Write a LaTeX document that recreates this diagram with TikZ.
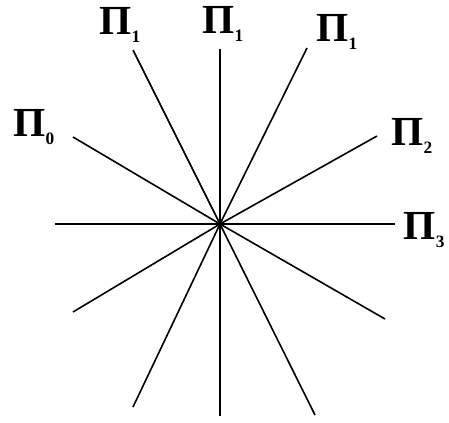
\documentclass[tikz,border=0pt]{standalone}
\usepackage{fontspec}
\setmainfont{Liberation Serif}
\tikzset{
  ray/.style={line width=1.2pt},
  pilabel/.style={inner sep=0pt, font=\fontsize{31}{36}\selectfont\bfseries}
}
\newcommand{\Pisub}[1]{Π\raisebox{-6pt}{\fontsize{13}{15}\selectfont #1}}
\begin{document}
\begin{tikzpicture}[x=0.75pt,y=0.75pt,yscale=-1,xscale=1]
\useasboundingbox (0,0) rectangle (449,422);
\coordinate (o) at (220,224);
% ray ends, upper half
\coordinate (p0) at (73,137);
\coordinate (p1l) at (133,50);
\coordinate (p1m) at (220,49);
\coordinate (p1r) at (307,48);
\coordinate (p2) at (377,136);
\coordinate (p3) at (395,224);
% ray ends, lower half
\coordinate (w) at (55,224);
\coordinate (sw) at (73,312);
\coordinate (ssw) at (133,407);
\coordinate (s) at (220,416);
\coordinate (sse) at (315,415);
\coordinate (se) at (385,319);
\foreach \e in {p0,p1l,p1m,p1r,p2,p3,w,sw,ssw,s,sse,se}
  \draw [ray] (o) -- (\e);
% labels
\draw (120,25) node [pilabel] (l1l) {\Pisub{1}};
\draw (223,24) node [pilabel] (l1m) {\Pisub{1}};
\draw (337,32) node [pilabel] (l1r) {\Pisub{1}};
\draw (34,127) node [pilabel] (l0) {\Pisub{0}};
\draw (412,136) node [pilabel] (l2) {\Pisub{2}};
\draw (424,230) node [pilabel] (l3) {\Pisub{3}};
\end{tikzpicture}
\end{document}
